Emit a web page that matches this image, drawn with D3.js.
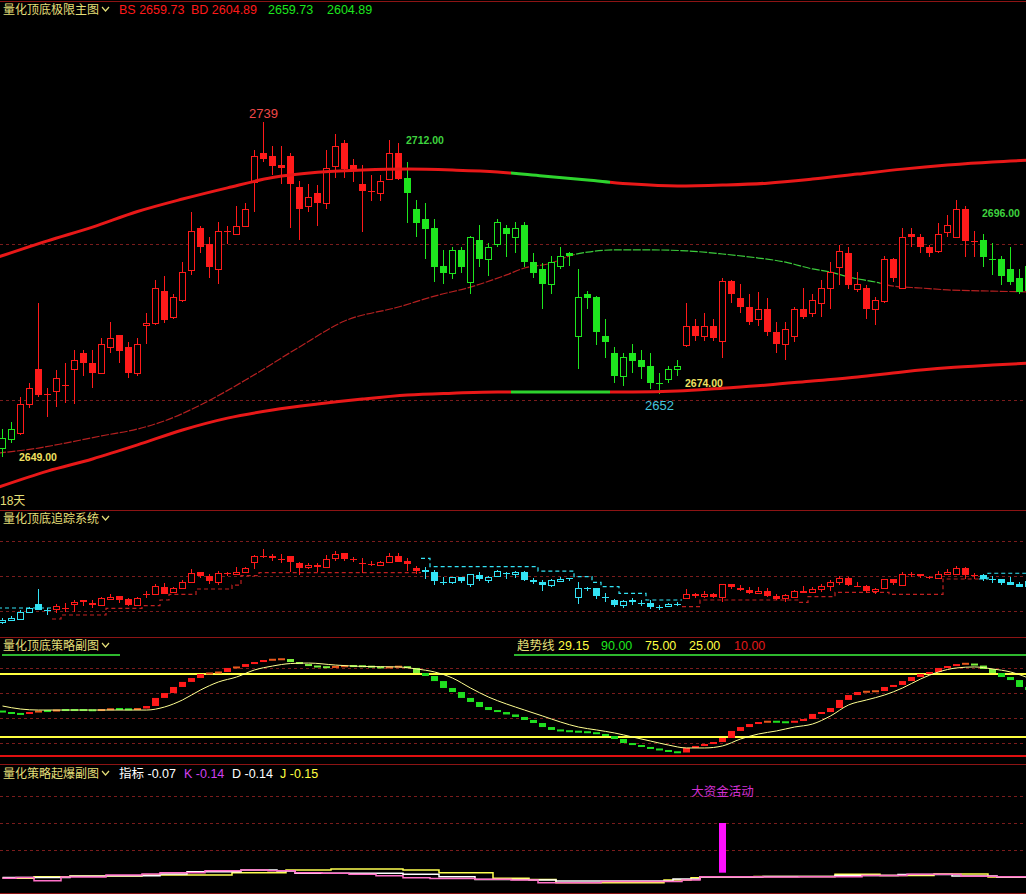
<!DOCTYPE html>
<html><head><meta charset="utf-8">
<script src="https://cdn.jsdelivr.net/npm/d3@7/dist/d3.min.js"></script>
<style>
html,body{margin:0;padding:0;background:#000;overflow:hidden}
svg{display:block;background:#000}
text{font-family:"Liberation Sans","Noto Sans CJK SC",sans-serif}
</style></head><body>
<svg id="chart" width="1026" height="894"></svg>
<script>
// ===== DATA =====
// OHLC per bar: [open, high, low, close]
const ohlc = [
[2634.6,2640.7,2631.7,2637.8],[2637.5,2643.0,2636.2,2640.7],[2639.4,2651.0,2638.8,2648.7],[2648.7,2655.4,2647.4,2653.8],
[2659.9,2681.1,2651.0,2651.6],[2651.9,2653.8,2644.6,2651.9],[2652.9,2659.6,2647.8,2657.1],[2654.8,2661.9,2649.0,2654.8],
[2659.9,2666.0,2648.7,2662.8],[2665.1,2666.0,2657.7,2661.9],[2661.9,2666.0,2653.8,2658.7],[2658.7,2669.9,2658.7,2668.0],
[2667.0,2675.0,2665.1,2669.9],[2670.8,2670.8,2661.9,2665.7],[2667.0,2668.6,2657.1,2658.7],[2658.7,2669.9,2657.7,2668.0],
[2674.0,2677.9,2668.0,2674.7],[2674.7,2688.5,2674.0,2685.9],[2684.9,2689.7,2674.7,2675.6],[2676.6,2684.0,2676.0,2683.0],
[2682.1,2694.2,2681.5,2691.0],[2691.7,2710.3,2690.1,2704.2],[2705.1,2705.8,2697.1,2699.0],[2700.0,2702.2,2689.1,2692.6],
[2692.0,2707.0,2687.2,2704.2],[2704.2,2705.8,2700.0,2704.2],[2703.2,2712.2,2702.9,2705.8],[2705.8,2713.1,2705.5,2711.2],
[2719.9,2730.1,2710.3,2728.2],[2729.2,2739.0,2726.3,2727.2],[2728.2,2731.4,2722.1,2725.0],[2725.3,2731.4,2719.2,2724.4],
[2728.2,2729.2,2705.1,2719.2],[2718.3,2720.2,2701.3,2711.2],[2712.2,2719.2,2710.3,2715.1],[2716.3,2718.9,2705.8,2713.1],
[2713.1,2730.1,2711.2,2724.4],[2725.0,2735.3,2721.2,2731.4],[2732.4,2733.3,2721.2,2724.0],[2725.3,2727.2,2719.9,2724.0],
[2719.2,2725.3,2703.8,2717.0],[2717.0,2722.1,2713.8,2717.0],[2716.3,2722.1,2713.8,2720.2],[2720.8,2733.3,2720.5,2729.2],
[2729.2,2732.4,2720.5,2720.8],[2721.2,2726.3,2706.7,2716.3],[2711.2,2714.1,2702.2,2706.7],[2708.0,2713.1,2695.2,2704.8],
[2705.1,2708.0,2687.8,2692.6],[2692.9,2698.1,2687.2,2690.7],[2690.7,2699.0,2688.8,2698.1],[2698.1,2699.0,2690.7,2692.6],
[2687.8,2702.5,2684.0,2702.2],[2701.3,2706.1,2692.6,2695.2],[2695.2,2700.3,2689.7,2699.0],[2700.0,2708.0,2699.0,2707.0],
[2705.1,2706.1,2695.8,2703.2],[2702.2,2707.0,2697.1,2705.1],[2706.1,2707.0,2692.6,2694.2],[2694.2,2697.1,2689.1,2690.7],
[2692.0,2693.9,2679.2,2687.2],[2687.2,2696.2,2684.0,2694.2],[2692.9,2699.0,2692.0,2696.2],[2697.1,2697.4,2692.9,2696.2],
[2670.5,2692.0,2659.9,2683.0],[2684.0,2684.9,2679.2,2682.7],[2683.0,2683.3,2667.6,2671.8],[2670.5,2676.0,2663.5,2668.6],
[2665.1,2667.0,2655.4,2657.7],[2657.7,2665.1,2654.5,2663.8],[2665.1,2668.0,2658.7,2662.5],[2662.8,2666.0,2656.7,2660.6],
[2660.9,2665.1,2653.5,2655.4],[2655.4,2658.7,2652.0,2655.4],[2656.7,2660.9,2655.4,2659.9],[2659.9,2662.8,2657.7,2660.9],
[2667.6,2681.1,2667.0,2673.7],[2673.7,2676.0,2668.9,2670.5],[2670.5,2677.9,2668.9,2673.7],[2673.7,2676.0,2668.9,2669.9],
[2668.9,2689.1,2663.5,2688.1],[2688.1,2688.4,2681.1,2684.0],[2682.7,2687.2,2677.9,2679.8],[2679.8,2684.0,2674.0,2675.0],
[2676.0,2684.6,2673.7,2679.2],[2679.2,2682.7,2670.5,2671.8],[2671.8,2675.0,2665.1,2668.0],[2668.0,2675.0,2662.8,2672.8],
[2670.5,2679.8,2668.6,2679.2],[2679.2,2685.9,2676.0,2676.6],[2677.9,2684.0,2676.6,2682.1],[2681.1,2688.5,2676.6,2685.9],
[2685.9,2694.2,2679.2,2691.0],[2692.6,2699.7,2686.9,2697.8],[2697.1,2699.0,2685.6,2686.9],[2685.6,2691.0,2684.6,2687.2],
[2685.9,2686.9,2676.0,2679.2],[2679.2,2683.0,2674.0,2682.1],[2681.7,2696.2,2681.1,2695.2],[2695.2,2695.5,2687.8,2689.1],
[2685.9,2705.1,2685.6,2702.2],[2703.2,2705.1,2699.0,2702.2],[2702.2,2703.2,2697.1,2699.0],[2699.0,2699.7,2695.8,2697.1],
[2697.8,2706.7,2697.1,2703.2],[2703.8,2709.3,2702.2,2706.1],[2702.2,2714.1,2701.9,2711.2],[2711.2,2712.2,2695.8,2701.0],
[2701.0,2704.2,2695.8,2701.0],[2701.3,2703.2,2692.6,2695.8],[2695.2,2700.3,2690.1,2695.2],[2695.2,2696.2,2686.9,2689.7],
[2692.0,2699.0,2686.9,2687.8],[2689.1,2692.0,2684.0,2684.6],[2685.3,2694.2,2683.7,2692.9]
];
// trend state runs (count, state) for main panel candles and tracking panel
const mainStateRuns  = [[2,"dn"],[43,"up"],[31,"dn"],[33,"up"],[6,"dn"]];
const trackStateRuns = [[6,"dn"],[41,"up"],[29,"dn"],[33,"up"],[6,"dn"]];
// extreme-band anchors [bar, price]
const upperBand = [[-0.5,2695.8],[5,2701.0],[10,2705.4],[15,2710.4],[20,2714.4],[25,2718.0],[30,2721.3],[35,2723.0],[40,2723.7],[45,2724.0],[50,2723.7],[55,2723.1],[60,2721.8],[65,2720.5],[70,2719.2],[75,2718.6],[80,2718.9],[85,2719.5],[90,2720.8],[95,2722.4],[100,2724.0],[105,2725.3],[110,2726.3],[114.5,2726.9]];
const lowerBand = [[-0.5,2622.0],[5,2627.2],[10,2631.1],[15,2635.6],[20,2640.4],[25,2644.2],[30,2646.8],[35,2648.7],[40,2650.3],[45,2651.6],[50,2652.2],[55,2652.6],[60,2652.6],[65,2652.6],[70,2652.6],[75,2652.9],[80,2653.8],[85,2654.8],[90,2656.1],[95,2657.4],[100,2659.0],[105,2660.3],[110,2661.2],[114.5,2661.9]];
const bandGreenBars = [57, 67];
const midLine = [[-0.5,2633.0],[4,2634.6],[7,2636.2],[11,2638.5],[15,2640.7],[18,2643.3],[22,2648.4],[27,2656.4],[33,2667.0],[38,2675.3],[44,2679.8],[48,2683.3],[52,2686.2],[56,2690.1],[58,2692.3],[61,2693.9],[63,2696.2],[65,2697.4],[68,2698.1],[72,2698.1],[76,2697.8],[80,2696.8],[84,2695.5],[87,2694.2],[90,2692.0],[92,2691.0],[94,2689.4],[97,2687.8],[99,2686.5],[102,2685.9],[105,2685.3],[110,2684.9],[114.5,2684.6]];
const midGreenBars = [64, 97];
const peakMarks = [{i:29, kind:"high"}, {i:73, kind:"low"}];
const tagTexts   = ["2649.00","2712.00","2674.00","2696.00"];
const tagBars    = [2, 45, 76, 109];
const tagAnchors = [2631.7, 2733.3, 2655.4, 2710.0];
const tagKinds   = ["buy","sell","buy","sell"];
const headerMain = [["BS 2659.73","red"],["BD 2604.89","red"],["2659.73","green"],["2604.89","green"]];
const dayCount = "18天";
// tracking system stop levels per bar
const trackLevels = [
2654.3,2654.3,2654.3,2654.3,2654.3,2654.3,2638.6,2644.3,2644.3,2644.3,2644.3,2644.3,2653.8,2653.8,2653.8,2653.8,
2657.6,2657.6,2665.7,2673.8,2673.8,2673.8,2681.4,2681.4,2681.4,2681.4,2687.1,2700.4,2700.4,
2704.7,2704.7,2704.7,2704.7,2704.7,2704.7,2704.7,2704.7,2704.7,2704.7,2704.7,2704.7,2704.7,2704.7,2704.7,2704.7,2704.7,2704.7,
2725.2,2713.3,2713.3,2713.3,2713.3,2713.3,2713.3,2713.3,2713.3,2713.3,2713.3,2713.3,2713.3,
2707.1,2707.1,2707.1,2707.1,2699.0,2699.0,2691.0,2684.7,2684.7,2675.3,2675.3,2675.3,2665.7,2665.7,2665.7,2665.7,
2656.2,2656.2,2665.7,2665.7,2665.7,2665.7,2665.7,2665.7,2665.7,2665.7,2665.7,2665.7,2665.7,2662.4,2670.4,2670.4,2670.4,
2676.7,2676.7,2676.7,2676.7,2676.7,2676.7,2673.8,2673.8,2673.8,2673.8,2673.8,2673.8,2695.7,2695.7,2695.7,2695.7,2695.7,
2703.9,2703.9,2703.9,2703.9,2703.9];
// strategy oscillator per bar
const strat = [
44.8,43.3,43.3,44.8,45.6,45.6,46.4,46.4,46.4,46.4,46.0,46.8,47.2,47.2,46.8,47.6,49.6,56.0,59.9,64.7,
68.7,71.8,75.0,75.8,76.6,79.8,80.6,82.9,84.5,86.1,86.5,86.9,84.5,82.9,81.3,80.6,80.2,81.0,81.3,81.3,
81.0,80.6,79.8,80.6,81.0,79.8,75.8,73.4,69.4,63.9,60.7,56.0,52.8,48.8,46.4,44.8,42.9,40.9,38.5,36.1,
32.9,30.6,29.8,29.4,29.0,28.6,27.4,25.8,23.4,20.2,18.6,17.1,15.5,14.7,13.1,12.7,16.3,17.9,19.4,21.0,
24.2,29.8,32.9,35.3,36.9,37.3,36.9,36.5,37.7,39.3,43.3,44.8,48.0,54.4,58.3,60.7,61.1,61.5,64.7,66.3,
69.4,72.6,75.0,76.6,79.8,81.3,82.9,83.3,81.7,79.0,75.8,72.6,70.2,64.7,62.3];
const trendAnchors = [[0,49.6],[2,47.2],[4,46.4],[10,46.4],[16,46.4],[18,48.8],[20,54.4],[22,62.3],[24,68.7],[26,72.6],[28,78.2],[30,81.3],[32,83.3],[34,83.7],[37,82.1],[40,81.0],[44,80.6],[46,79.0],[48,76.6],[50,71.8],[52,63.9],[54,56.7],[56,51.2],[58,46.4],[60,41.7],[62,36.9],[64,32.9],[66,30.6],[68,28.2],[70,25.0],[72,21.8],[74,18.6],[76,16.3],[78,16.3],[80,17.9],[82,23.4],[84,27.4],[86,29.8],[88,32.9],[90,35.3],[92,41.7],[94,50.4],[96,54.4],[98,58.3],[100,63.9],[102,71.0],[104,76.6],[106,79.8],[108,80.6],[110,79.0],[112,76.6],[114,71.8]];
const stratLegend = [["趋势线","title"],["29.15","yellow"],["90.00","green"],["75.00","yellow"],["25.00","yellow"],["10.00","red"]];
// KDJ-like explosive indicator
const kLine = [-0.05,-0.05,-0.02,-0.02,-0.14,-0.14,-0.14,0,0,0,0,0,0.07,0.07,0.07,0.07,0.11,0.11,0.16,0.16,0.16,0.16,0.16,0.23,0.23,0.23,0.23,0.26,0.26,0.26,
0.23,0.23,0.23,0.16,0.16,0.16,0.14,0.14,0.14,0.10,0.10,0.10,0.05,0.05,0.05,-0.03,-0.03,-0.03,-0.06,-0.06,-0.06,-0.06,-0.06,-0.08,-0.08,-0.08,-0.08,
-0.11,-0.11,-0.11,-0.21,-0.21,-0.21,-0.21,-0.21,-0.21,-0.21,-0.17,-0.17,-0.17,-0.17,-0.17,-0.17,-0.17,-0.17,-0.17,-0.11,-0.11,
0.01,0.01,0.01,0.01,0.01,0.01,0.01,0,0,0,0,0.01,0.01,0.01,0.01,0.01,0.01,0.01,0.06,0.06,0.06,0.06,0.06,0.10,0.10,0.10,0.10,0.10,0.10,
0.03,0.03,0.03,0.03,0.01,0.01,0.01,0.01];
const dLine = [-0.02,-0.02,-0.02,-0.02,-0.02,-0.02,-0.02,-0.02,0.03,0.03,0.03,0.03,0.05,0.05,0.05,0.05,0.05,0.05,0.11,0.11,0.11,0.19,0.19,0.19,0.19,0.19,0.19,
0.26,0.26,0.26,0.26,0.22,0.22,0.14,0.14,0.14,0.14,0.14,0.14,0.14,0.14,0.14,0.14,0.14,0.14,0.10,0.10,0.10,0.10,0.01,0.01,0.01,0.01,
-0.09,-0.09,-0.09,-0.09,-0.09,-0.09,-0.11,-0.11,-0.11,-0.15,-0.15,-0.15,-0.15,-0.15,-0.15,-0.15,-0.15,-0.15,-0.15,-0.15,-0.15,-0.15,
-0.07,-0.07,-0.07,0,0,0,0,0,0,0,0.02,0.02,0.02,0.02,0.02,0.02,0.02,0.02,0.06,0.06,0.06,0.06,0.06,0.06,0.06,
0.09,0.09,0.09,0.09,0.09,0.09,0.04,0.04,0.04,0.04,0.04,0,0,0,0];
const jLine = [-0.05,-0.05,-0.05,-0.05,0.01,0.01,0.01,0.01,0.04,0.04,0.04,0.04,0.04,0.04,0.04,0.04,0.07,0.07,0.07,0.07,0.07,0.07,0.07,0.07,0.07,0.07,
0.16,0.16,0.16,0.16,0.16,0.16,0.26,0.26,0.26,0.26,0.26,0.30,0.30,0.30,0.30,0.30,0.30,0.30,0.30,0.26,0.26,0.26,0.26,
0.16,0.16,0.16,0.16,0.16,0.16,-0.05,-0.05,-0.05,-0.05,-0.09,-0.09,-0.09,-0.21,-0.21,-0.21,-0.21,-0.21,-0.21,-0.21,-0.21,-0.21,-0.21,-0.21,-0.21,
-0.11,-0.11,-0.11,-0.03,0.01,0.01,0.01,0.01,0.01,0.01,0.02,0.02,0.02,0.02,0.02,0.02,0.02,0.02,0.02,0.10,0.10,0.10,0.10,0.10,
0.06,0.06,0.06,0.06,0.06,0.06,0.11,0.11,0.11,0.11,0.11,0.11,0,0,0,0,0];
const bigMoney = {i:80, from:0.16, to:2.0, label:"大资金活动"};
const kdjLegend = [["指标 -0.07","white"],["K -0.14","magenta"],["D -0.14","white"],["J -0.15","yellow"]];
const panelTitles = ["量化顶底极限主图","量化顶底追踪系统","量化顶底策略副图","量化策略起爆副图"];

// ===== STYLE / LAYOUT =====
const C = {red:"#ff1a1a", green:"#1ee61e", cyan:"#33e3f5", title:"#e4df78", yellow:"#ffff40",
  grid:"#7a1c1c", sep:"#8c1414", dred:"#b42020", mgreen:"#3ccc3c", white:"#ffffff", magenta:"#d040f0"};
const svg = d3.select("#chart");
const x = d3.scaleLinear().domain([0,1]).range([2.5,11.5]);
const yMain  = d3.scaleLinear().domain([2650,2700]).range([400,244]);
const yTrack = d3.scaleLinear().domain([2650,2700]).range([611,576]);
const yStrat = d3.scaleLinear().domain([25,75]).range([737,674]);
const yKdj   = d3.scaleLinear().domain([0,3]).range([877,796]);
const expand = runs => runs.flatMap(([n,s]) => Array(n).fill(s));
const mainState = expand(mainStateRuns), trackState = expand(trackStateRuns);

const defs = svg.append("defs");
function clip(id, x0, y0, w, h){ defs.append("clipPath").attr("id",id).append("rect").attr("x",x0).attr("y",y0).attr("width",w).attr("height",h); return `url(#${id})`; }

// separators
[1, 510, 637, 764, 893].forEach(yy => svg.append("line").attr("x1",0).attr("x2",1026).attr("y1",yy+0.5).attr("y2",yy+0.5).attr("stroke",C.sep).attr("stroke-width",1));

function grid(yS, vals){
  vals.forEach(v => svg.append("line").attr("x1",0).attr("x2",1026).attr("y1",Math.round(yS(v))+0.5).attr("y2",Math.round(yS(v))+0.5)
    .attr("stroke",C.grid).attr("stroke-width",1).attr("stroke-dasharray","3,3"));
}
grid(yMain,[2650,2700]);
grid(yTrack,[2650,2700,2750]);
grid(yStrat,[20,40,60,80]);
grid(yKdj,[1,2,3]);

// titles
function title(txt, yb){
  const t = svg.append("text").attr("x",3).attr("y",yb).attr("fill",C.title).attr("font-size",12).text(txt);
  const w = t.node().getComputedTextLength();
  svg.append("path").attr("d",`M${3+w+3},${yb-7} l3.5,4 l3.5,-4`).attr("fill","none").attr("stroke",C.title).attr("stroke-width",1.2);
}
title(panelTitles[0],14); title(panelTitles[1],523); title(panelTitles[2],650); title(panelTitles[3],778);

const colorName = {red:C.red, green:C.green, yellow:C.yellow, white:C.white, magenta:C.magenta, title:C.title};
[119,191,268,327].forEach((px,k)=> svg.append("text").attr("x",px).attr("y",14).attr("font-size",12.5).attr("fill",colorName[headerMain[k][1]]).text(headerMain[k][0]));
[517,558,601,645,689,734].forEach((px,k)=> svg.append("text").attr("x",px).attr("y",650).attr("font-size",12.5).attr("fill",k==5?"#e01818":colorName[stratLegend[k][1]]).text(stratLegend[k][0]));
[119,184,232,280].forEach((px,k)=> svg.append("text").attr("x",px).attr("y",778).attr("font-size",12.5).attr("fill",colorName[kdjLegend[k][1]]).text(kdjLegend[k][0]));
svg.append("text").attr("x",0).attr("y",505).attr("font-size",12).attr("fill",C.title).text(dayCount);

// ===== MAIN PANEL =====
const gMain = svg.append("g").attr("clip-path", clip("cMain",0,2,1026,507));
function drawCandles(g, yS, colorOf){
  g.attr("shape-rendering","crispEdges");
  ohlc.forEach(([o,h,l,c],i)=>{
    const cx = x(i), col = colorOf(i);
    const yT = yS(Math.max(o,c)), yB = yS(Math.min(o,c));
    g.append("line").attr("x1",cx).attr("x2",cx).attr("y1",yS(h)).attr("y2",yS(l)).attr("stroke",col);
    if (yB - yT < 1.6) {
      const ym = Math.round((yT+yB)/2)+0.5;
      g.append("line").attr("x1",cx-3.5).attr("x2",cx+3.5).attr("y1",ym).attr("y2",ym).attr("stroke",col);
    } else if (c >= o) {
      g.append("rect").attr("x",cx-3).attr("y",Math.round(yT)+0.5).attr("width",6).attr("height",Math.round(yB-yT)).attr("fill","#000").attr("stroke",col);
    } else {
      g.append("rect").attr("x",cx-3.5).attr("y",Math.round(yT)).attr("width",7).attr("height",Math.max(1,Math.round(yB-yT))).attr("fill",col);
    }
  });
}
const bandLine = d3.line().x(d=>x(d[0])).y(d=>yMain(d[1])).curve(d3.curveMonotoneX);
const gX0 = x(bandGreenBars[0]-0.5), gX1 = x(bandGreenBars[1]+0.5);
const mX0 = x(midGreenBars[0]-0.5), mX1 = x(midGreenBars[1]+0.5);
const cBandL = clip("cbl",0,0,gX0,509), cBandM = clip("cbm",gX0,0,gX1-gX0,509), cBandR = clip("cbr",gX1,0,1026-gX1,509);
const cMidL = clip("cml",0,0,mX0,509), cMidM = clip("cmm",mX0,0,mX1-mX0,509), cMidR = clip("cmr",mX1,0,1026-mX1,509);

// thin mid line
[[cMidL,C.dred],[cMidM,C.mgreen],[cMidR,C.dred]].forEach(([cp,col])=>
  gMain.append("g").attr("clip-path",cp).append("path").attr("d",bandLine(midLine)).attr("fill","none").attr("stroke",col).attr("stroke-width",1.2).attr("stroke-dasharray","8,1.5"));

drawCandles(gMain.append("g"), yMain, i => mainState[i]==="up" ? C.red : C.green);

// thick bands
[upperBand, lowerBand].forEach(b => {
  [[cBandL,"#e81818"],[cBandM,"#2ed42e"],[cBandR,"#e81818"]].forEach(([cp,col])=>
    gMain.append("g").attr("clip-path",cp).append("path").attr("d",bandLine(b)).attr("fill","none").attr("stroke",col).attr("stroke-width",3));
});

// peak labels
peakMarks.forEach(p=>{
  const d = ohlc[p.i];
  if (p.kind==="high") gMain.append("text").attr("x",x(p.i)).attr("y",yMain(d[1])-4).attr("text-anchor","middle").attr("font-size",13).attr("fill","#f04848").text(d3.format("d")(d[1]));
  else gMain.append("text").attr("x",x(p.i)).attr("y",yMain(d[2])+16).attr("text-anchor","middle").attr("font-size",13).attr("fill","#44c4dc").text(d3.format("d")(d[2]));
});
tagTexts.forEach((t,k)=>{
  gMain.append("text").attr("x",x(tagBars[k])-1.5).attr("y",yMain(tagAnchors[k])+4).attr("font-size",10.5).attr("font-weight","bold")
    .attr("fill", tagKinds[k]==="buy" ? "#f0e060" : "#3ed23e").text(t);
});

// ===== TRACKING PANEL =====
const gTrack = svg.append("g").attr("clip-path", clip("cTrack",0,511,1026,125));
{
  // stop lines: one path per contiguous state run
  let runs = [], cur = null;
  trackLevels.forEach((v,i)=>{
    if (!cur || cur.s !== trackState[i]) { cur = {s:trackState[i], pts:[]}; runs.push(cur); }
    cur.pts.push([x(i)-4.5, yTrack(v)], [x(i)+4.5, yTrack(v)]);
  });
  runs.forEach(r => gTrack.append("path").attr("d", d3.line()(r.pts)).attr("fill","none")
    .attr("stroke", r.s==="up" ? "#c02020" : C.cyan).attr("stroke-width",1.2).attr("stroke-dasharray","4,3"));
}
drawCandles(gTrack.append("g"), yTrack, i => trackState[i]==="up" ? C.red : C.cyan);

// ===== STRATEGY PANEL =====
const gStrat = svg.append("g").attr("clip-path", clip("cStrat",0,638,1026,125));
svg.append("line").attr("x1",2).attr("x2",120).attr("y1",yStrat(90)).attr("y2",yStrat(90)).attr("stroke","#2eb82e").attr("stroke-width",2);
gStrat.append("line").attr("x1",514).attr("x2",1026).attr("y1",yStrat(90)).attr("y2",yStrat(90)).attr("stroke","#2eb82e").attr("stroke-width",2);
[[75,C.yellow],[25,C.yellow],[10,"#e01010"]].forEach(([v,col]) =>
  gStrat.append("line").attr("x1",0).attr("x2",1026).attr("y1",yStrat(v)).attr("y2",yStrat(v)).attr("stroke",col).attr("stroke-width",2));
strat.forEach((v,i)=>{
  const prev = i ? strat[i-1] : v + 0.8;
  const diff = v - prev;
  const col = diff >= 1.0 ? "#ff1a1a" : diff > 0 ? "#e8581c" : (v > 75 ? "#7cf03c" : "#20e020");
  let y0 = yStrat(Math.max(v,prev)), y1 = yStrat(Math.min(v,prev));
  if (y1 - y0 < 2) { const m=(y0+y1)/2; y0=m-1; y1=m+1; }
  gStrat.append("rect").attr("x",x(i)-3.5).attr("y",y0).attr("width",7).attr("height",y1-y0).attr("fill",col);
});
gStrat.append("path").attr("d", d3.line().x(d=>x(d[0])).y(d=>yStrat(d[1])).curve(d3.curveMonotoneX)(trendAnchors))
  .attr("fill","none").attr("stroke","#ffff90").attr("stroke-width",1);

// ===== EXPLOSIVE PANEL =====
const gK = svg.append("g").attr("clip-path", clip("cKdj",0,765,1026,128));
gK.append("rect").attr("x",x(bigMoney.i)-3.5).attr("y",yKdj(bigMoney.to)).attr("width",7)
  .attr("height",yKdj(bigMoney.from)-yKdj(bigMoney.to)).attr("fill","#ff10ff");
gK.append("text").attr("x",x(bigMoney.i)).attr("y",yKdj(bigMoney.to)-27).attr("text-anchor","middle").attr("font-size",12.5).attr("fill","#d030d0").text(bigMoney.label);
const stepLine = d3.line().x((d,i)=>x(i)).y(d=>yKdj(d)).curve(d3.curveStep);
[[jLine,"#ffff50"],[dLine,"#ffffff"],[kLine,"#ff70c8"]].forEach(([arr,col]) =>
  gK.append("path").attr("d",stepLine(arr)).attr("fill","none").attr("stroke",col).attr("stroke-width",1.5));
</script>
</body></html>
